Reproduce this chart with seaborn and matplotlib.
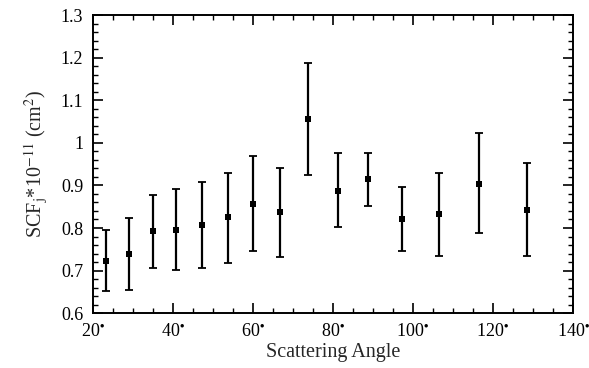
import numpy as np
import pandas as pd
import matplotlib
matplotlib.use("Agg")
import matplotlib.pyplot as plt
from matplotlib.ticker import MultipleLocator, FuncFormatter
import seaborn as sns

# dados
angulos = [23.2, 28.9, 35.0, 40.8, 47.2, 53.7, 60.1, 66.8, 73.7, 81.2, 88.8, 97.3, 106.4, 116.5, 128.5]
scf = [0.723, 0.738, 0.792, 0.796, 0.808, 0.825, 0.857, 0.837, 1.056, 0.888, 0.915, 0.821, 0.833, 0.904, 0.843]
erro_sup = [0.795, 0.823, 0.878, 0.892, 0.908, 0.930, 0.969, 0.942, 1.188, 0.975, 0.977, 0.897, 0.930, 1.022, 0.952]
erro_inf = [0.651, 0.655, 0.705, 0.702, 0.706, 0.717, 0.746, 0.732, 0.925, 0.802, 0.852, 0.746, 0.735, 0.788, 0.735]

df = pd.DataFrame({'Angulo': angulos, 'SCF': scf, 'Sup': erro_sup, 'Inf': erro_inf})

sns.set_theme(style="ticks")
plt.rcParams['font.family'] = ['Liberation Serif', 'DejaVu Serif']
plt.rcParams['mathtext.fontset'] = 'stix'

fig = plt.figure(figsize=(5.89, 3.68), dpi=100)
ax = fig.add_axes([0.158, 0.149, 0.815, 0.81])

yerr = np.array([df['SCF'] - df['Inf'], df['Sup'] - df['SCF']])
ax.errorbar(df['Angulo'], df['SCF'], yerr=yerr, fmt='none', ecolor='black',
            elinewidth=1.6, capsize=3.2, capthick=1.3)
sns.scatterplot(data=df, x='Angulo', y='SCF', marker='s', s=14, color='black',
                edgecolor='black', linewidth=0, ax=ax, zorder=3)

ax.set_xlim(20, 140)
ax.set_ylim(0.6, 1.3)
ax.xaxis.set_major_locator(MultipleLocator(20))
ax.xaxis.set_minor_locator(MultipleLocator(5))
ax.yaxis.set_major_locator(MultipleLocator(0.1))
ax.yaxis.set_minor_locator(MultipleLocator(0.02))
ax.xaxis.set_major_formatter(FuncFormatter(lambda v, p: f"{v:g}" + r"$^{\bullet}$"))
ax.yaxis.set_major_formatter(FuncFormatter(lambda v, p: f"{round(v, 2):g}"))

ax.tick_params(which='both', direction='in', top=True, right=True, colors='black')
ax.tick_params(which='major', length=7, width=1.2, labelsize=13, pad=7)
ax.tick_params(which='minor', length=3.5, width=1.0)
for s in ax.spines.values():
    s.set_linewidth(1.4)
    s.set_color('black')

ax.set_xlabel('Scattering Angle', fontsize=14.5, labelpad=2)
ax.set_ylabel(r'SCF$_{\rm j}$*10$^{-11}$ (cm$^2$)', fontsize=14.5, labelpad=8)

fig.savefig('out.png', dpi=100)
plt.close(fig)
